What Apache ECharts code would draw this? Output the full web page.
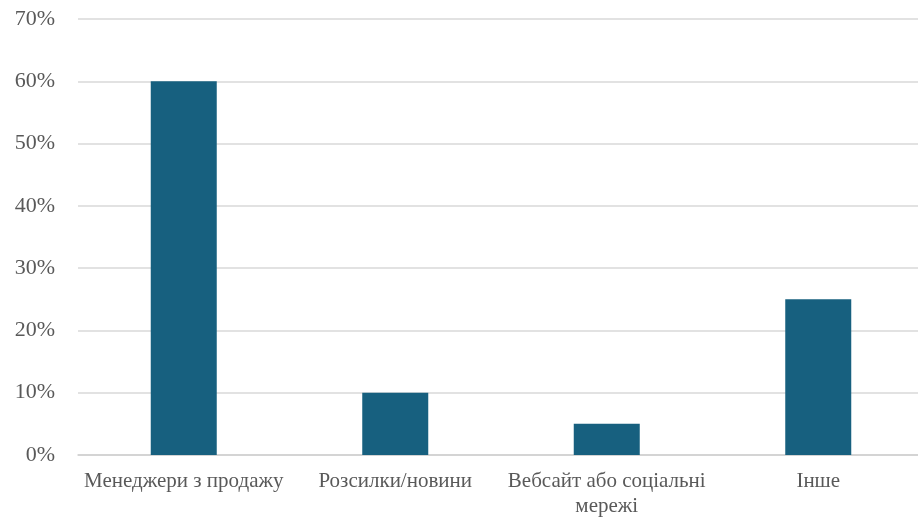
<!DOCTYPE html>
<html>
<head>
<meta charset="utf-8">
<script src="https://cdn.jsdelivr.net/npm/echarts@6/dist/echarts.min.js"></script>
<style>
  html, body { margin: 0; padding: 0; background: #fff; overflow: hidden; }
  /* plot area runs slightly past the right edge of the window */
  #chart { width: 924px; height: 519px; }
</style>
</head>
<body>
<div id="chart"></div>
<script>
// Channels through which information is received (share of respondents, %)
const categories = ['Менеджери з продажу', 'Розсилки/новини', 'Вебсайт або соціальні\nмережі', 'Інше'];
const shares = [60, 10, 5, 25];
const yTicks = { min: 0, max: 70, step: 10 };

const chart = echarts.init(document.getElementById('chart'));
const textFont = '"Liberation Serif", "Times New Roman", serif';

chart.setOption({
  animation: false,
  grid: { left: 78, top: 19, right: 0, height: 437, containLabel: false },
  xAxis: {
    type: 'category',
    data: categories,
    axisLine: { show: true, lineStyle: { color: '#d0d0d0', width: 1.5 } },
    axisTick: { show: false },
    axisLabel: {
      color: '#595959', fontFamily: textFont, fontSize: 21,
      margin: 14, lineHeight: 25, interval: 0
    }
  },
  yAxis: {
    type: 'value',
    min: yTicks.min, max: yTicks.max, interval: yTicks.step,
    axisLine: { show: false },
    axisTick: { show: false },
    splitLine: { lineStyle: { color: '#d9d9d9', width: 1.5 } },
    axisLabel: {
      color: '#595959', fontFamily: textFont, fontSize: 22, margin: 23,
      formatter: v => v + '%'
    }
  },
  series: [{
    type: 'bar',
    data: shares,
    barWidth: 66,
    itemStyle: { color: '#17607f' }
  }]
});
</script>
</body>
</html>
